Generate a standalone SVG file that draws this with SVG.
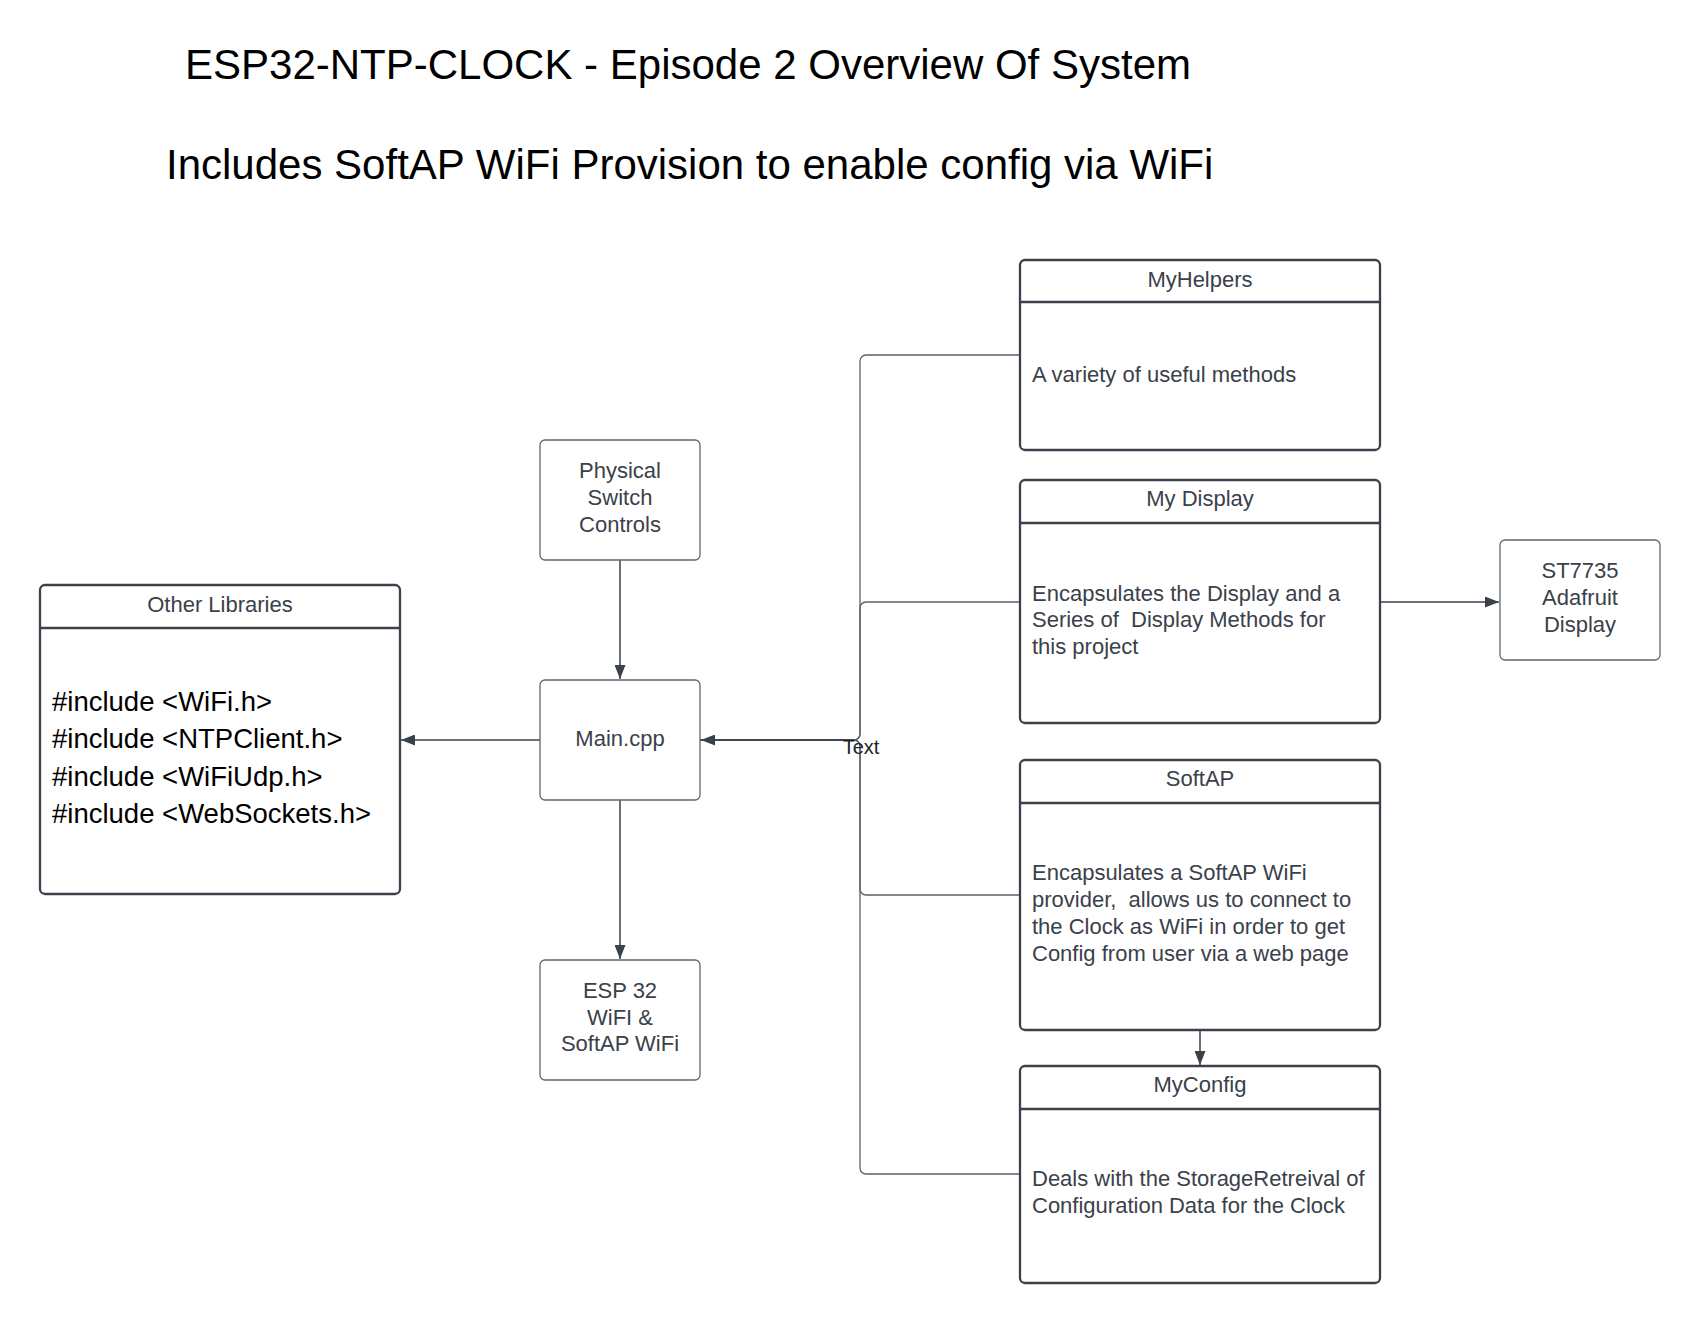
<svg xmlns="http://www.w3.org/2000/svg" width="1700" height="1323" viewBox="0 0 1700 1323">
<style>
text{font-family:"Liberation Sans",Arial,sans-serif}
.title{font-size:42px;fill:#000}
.n{font-size:22px;fill:#3a414a}
.c{text-anchor:middle}
.inc{font-size:27.5px;fill:#000}
.cont{fill:#fff;stroke:#3a414a;stroke-width:2.3}
.div{stroke:#3a414a;stroke-width:2.3}
.box{fill:#fff;stroke:#5e6670;stroke-width:1.3}
.con{fill:none;stroke:#3a414a;stroke-width:1.5}
.thin{fill:none;stroke:#5a6068;stroke-width:1.3}
</style>
<defs>
<marker id="ah" markerUnits="userSpaceOnUse" markerWidth="15" markerHeight="11" refX="14" refY="5.5" orient="auto">
<path d="M0,0 L14,5.5 L0,11 z" fill="#3a414a"/>
</marker>
</defs>
<rect width="1700" height="1323" fill="#fff"/>
<text class="title" x="185" y="79">ESP32-NTP-CLOCK - Episode 2 Overview Of System</text>
<text class="title" x="166" y="179">Includes SoftAP WiFi Provision to enable config via WiFi</text>

<g id="connectors">
<path class="thin" d="M1020,355 H866 A6,6 0 0 0 860,361 V734 A6,6 0 0 1 854,740 H700"/>
<path class="thin" d="M1020,602 H866 A6,6 0 0 0 860,608 V734 A6,6 0 0 1 854,740 H700"/>
<path class="thin" d="M1020,895 H866 A6,6 0 0 1 860,889 V746 A6,6 0 0 0 854,740 H700"/>
<path class="thin" d="M1020,1174 H866 A6,6 0 0 1 860,1168 V746 A6,6 0 0 0 854,740 H700"/>
<path class="con" d="M854,740 H701" marker-end="url(#ah)"/>
<path class="con" d="M620,560 V679" marker-end="url(#ah)"/>
<path class="con" d="M620,800 V959" marker-end="url(#ah)"/>
<path class="con" d="M540,740 H401" marker-end="url(#ah)"/>
<path class="con" d="M1380,602 H1499" marker-end="url(#ah)"/>
<path class="con" d="M1200,1030 V1065" marker-end="url(#ah)"/>
<text x="861" y="754" style="font-size:20px;fill:#1f2328;text-anchor:middle">Text</text>
</g>

<g id="myhelpers">
<rect class="cont" x="1020" y="260" width="360" height="190" rx="5"/>
<line class="div" x1="1020" y1="302" x2="1380" y2="302"/>
<text class="n c" x="1200" y="287">MyHelpers</text>
<text class="n" x="1032" y="382">A variety of useful methods</text>
</g>

<g id="mydisplay">
<rect class="cont" x="1020" y="480" width="360" height="243" rx="5"/>
<line class="div" x1="1020" y1="523" x2="1380" y2="523"/>
<text class="n c" x="1200" y="506">My Display</text>
<text class="n" x="1032" y="601" xml:space="preserve">Encapsulates the Display and a</text>
<text class="n" x="1032" y="627" xml:space="preserve">Series of  Display Methods for</text>
<text class="n" x="1032" y="654">this project</text>
</g>

<g id="st7735">
<rect class="box" x="1500" y="540" width="160" height="120" rx="5"/>
<text class="n c" x="1580" y="578">ST7735</text>
<text class="n c" x="1580" y="605">Adafruit</text>
<text class="n c" x="1580" y="632">Display</text>
</g>

<g id="softap">
<rect class="cont" x="1020" y="760" width="360" height="270" rx="5"/>
<line class="div" x1="1020" y1="803" x2="1380" y2="803"/>
<text class="n c" x="1200" y="786">SoftAP</text>
<text class="n" x="1032" y="880">Encapsulates a SoftAP WiFi</text>
<text class="n" x="1032" y="907" xml:space="preserve">provider,  allows us to connect to</text>
<text class="n" x="1032" y="934">the Clock as WiFi in order to get</text>
<text class="n" x="1032" y="961">Config from user via a web page</text>
</g>

<g id="myconfig">
<rect class="cont" x="1020" y="1066" width="360" height="217" rx="5"/>
<line class="div" x1="1020" y1="1109" x2="1380" y2="1109"/>
<text class="n c" x="1200" y="1092">MyConfig</text>
<text class="n" x="1032" y="1186">Deals with the StorageRetreival of</text>
<text class="n" x="1032" y="1213">Configuration Data for the Clock</text>
</g>

<g id="physical">
<rect class="box" x="540" y="440" width="160" height="120" rx="5"/>
<text class="n c" x="620" y="478">Physical</text>
<text class="n c" x="620" y="505">Switch</text>
<text class="n c" x="620" y="532">Controls</text>
</g>

<g id="main">
<rect class="box" x="540" y="680" width="160" height="120" rx="5"/>
<text class="n c" x="620" y="746">Main.cpp</text>
</g>

<g id="esp32">
<rect class="box" x="540" y="960" width="160" height="120" rx="5"/>
<text class="n c" x="620" y="998">ESP 32</text>
<text class="n c" x="620" y="1025">WiFI &amp;</text>
<text class="n c" x="620" y="1051">SoftAP WiFi</text>
</g>

<g id="otherlibs">
<rect class="cont" x="40" y="585" width="360" height="309" rx="5"/>
<line class="div" x1="40" y1="628" x2="400" y2="628"/>
<text class="n c" x="220" y="612">Other Libraries</text>
<text class="inc" x="52" y="711">#include &lt;WiFi.h&gt;</text>
<text class="inc" x="52" y="748">#include &lt;NTPClient.h&gt;</text>
<text class="inc" x="52" y="786">#include &lt;WiFiUdp.h&gt;</text>
<text class="inc" x="52" y="823">#include &lt;WebSockets.h&gt;</text>
</g>
</svg>
